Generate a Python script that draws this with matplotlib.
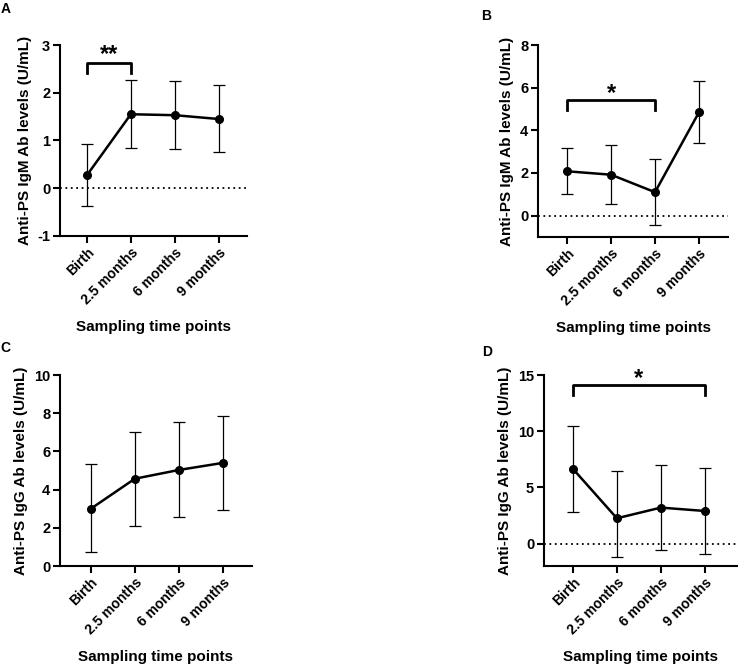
import numpy as np
import matplotlib
matplotlib.use("Agg")
import matplotlib.pyplot as plt

plt.rcParams["font.family"] = ["Liberation Sans", "DejaVu Sans"]
plt.rcParams["font.weight"] = "bold"
plt.rcParams["axes.unicode_minus"] = False

# Data
time_points = ["Birth", "2.5 months", "6 months", "9 months"]

igm_a_mean = [0.27, 1.55, 1.53, 1.45]
igm_a_low = [-0.37, 0.84, 0.82, 0.75]
igm_a_high = [0.92, 2.26, 2.25, 2.16]

igm_b_mean = [2.08, 1.92, 1.10, 4.85]
igm_b_low = [1.00, 0.55, -0.42, 3.42]
igm_b_high = [3.15, 3.30, 2.65, 6.30]

igg_c_mean = [3.00, 4.57, 5.03, 5.40]
igg_c_low = [0.72, 2.10, 2.57, 2.92]
igg_c_high = [5.35, 7.00, 7.52, 7.87]

igg_d_mean = [6.65, 2.25, 3.20, 2.90]
igg_d_low = [2.85, -1.20, -0.60, -0.90]
igg_d_high = [10.45, 6.42, 7.00, 6.72]

panels = [
    # letter, ylabel, mean, low, high, ylim, yticks, zero line, bracket, axes pos, xlim, letter pos
    ("A", "Anti-PS IgM Ab levels (U/mL)", igm_a_mean, igm_a_low, igm_a_high,
     (-1, 3), [-1, 0, 1, 2, 3], True, (0, 1, 2.62, 0.2, "**", 2.56),
     [0.0813, 0.6478, 0.2534, 0.285], (-0.61, 3.64), (6, 9)),
    ("B", "Anti-PS IgM Ab levels (U/mL)", igm_b_mean, igm_b_low, igm_b_high,
     (-1, 8), [0, 2, 4, 6, 8], True, (0, 2, 5.4, 0.45, "*", 5.2),
     [0.729, 0.6463, 0.2575, 0.2865], (-0.66, 3.66), (486, 16)),
    ("C", "Anti-PS IgG Ab levels (U/mL)", igg_c_mean, igg_c_low, igg_c_high,
     (0, 10), [0, 2, 4, 6, 8, 10], False, None,
     [0.0813, 0.1552, 0.260, 0.285], (-0.7, 3.66), (5, 348)),
    ("D", "Anti-PS IgG Ab levels (U/mL)", igg_d_mean, igg_d_low, igg_d_high,
     (-2, 15), [0, 5, 10, 15], True, (0, 3, 14.1, 0.9, "*", 13.7),
     [0.737, 0.1552, 0.2615, 0.285], (-0.66, 3.73), (487, 352)),
]

W, H = 738, 670
fig = plt.figure(figsize=(W / 100, H / 100), dpi=100)
x = np.arange(len(time_points))

for letter, ylab, mean, low, high, ylim, yticks, zero, bracket, pos, xlim, lpos in panels:
    ax = fig.add_axes(pos)
    mean = np.array(mean)
    yerr = [mean - np.array(low), np.array(high) - mean]

    if zero:
        ax.axhline(0, color="black", linestyle=(0, (1, 2)), linewidth=1.3, zorder=1)

    ax.errorbar(x, mean, yerr=yerr, fmt="none", ecolor="black", elinewidth=0.9,
                capsize=4.5, capthick=0.9, zorder=2)
    ax.plot(x, mean, color="black", linewidth=1.8, marker="o", markersize=5.5, zorder=3)

    if bracket is not None:
        i, j, by, drop, stars, sy = bracket
        ax.plot([x[i], x[i], x[j], x[j]], [by - drop, by, by, by - drop],
                color="black", linewidth=2, clip_on=False)
        ax.text((x[i] + x[j]) / 2, sy, stars, ha="center", va="bottom",
                fontsize=17, fontweight="bold")

    ax.set_xlim(*xlim)
    ax.set_ylim(*ylim)
    ax.set_yticks(yticks)
    ax.set_xticks(x)
    ax.set_xticklabels(time_points, rotation=45, ha="right", rotation_mode="anchor",
                       fontsize=10, fontweight="bold")
    for lbl in ax.get_yticklabels():
        lbl.set_fontsize(10.5)
        lbl.set_fontweight("bold")

    for side in ["top", "right"]:
        ax.spines[side].set_visible(False)
    for side in ["left", "bottom"]:
        ax.spines[side].set_linewidth(1.5)
    ax.tick_params(direction="out", length=5, width=1.5, pad=2)

    ax.set_ylabel(ylab, fontsize=11, fontweight="bold", labelpad=4)
    ax.set_xlabel("Sampling time points", fontsize=11, fontweight="bold")
    ax.xaxis.set_label_coords(0.5, -0.44)

    fig.text(lpos[0] / W, 1 - lpos[1] / H, letter, fontsize=10, fontweight="bold",
             ha="center", va="center")

fig.savefig("out.png", dpi=100)
